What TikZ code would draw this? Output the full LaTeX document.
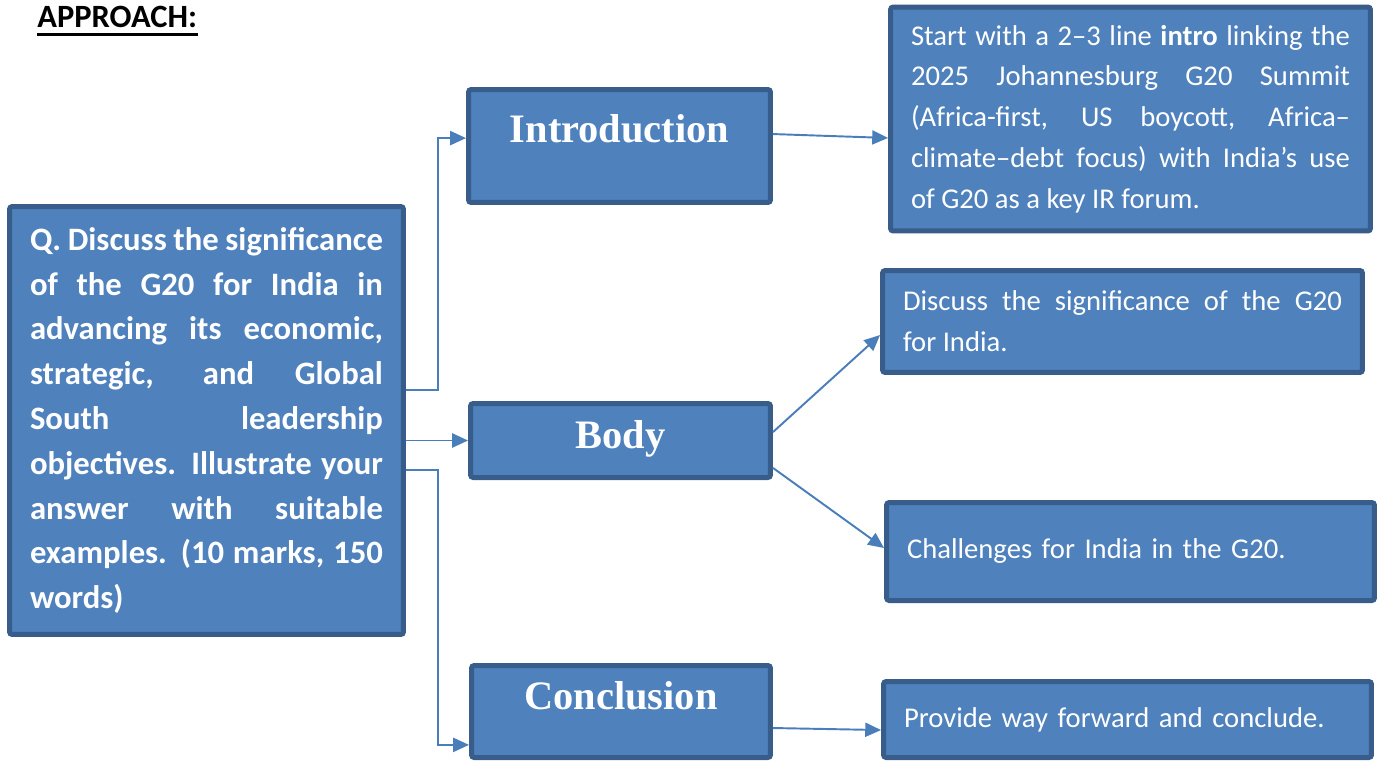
\documentclass[tikz,border=0pt]{standalone}
\usepackage{fontspec}
\setmainfont{Carlito}
\newfontfamily\headfont{Liberation Serif}
\usetikzlibrary{arrows.meta}
\definecolor{boxfill}{HTML}{4F81BD}
\definecolor{boxline}{HTML}{385D8A}
\definecolor{linkblue}{HTML}{4A7EBB}
\hyphenpenalty=10000
\exhyphenpenalty=10000
\tolerance=10000
\begin{document}
\begin{tikzpicture}[x=0.02cm,y=-0.02cm]
        \tikzstyle{box} = [fill=boxfill, draw=boxline, line width=0.1cm, rounded corners=1.5pt, inner xsep=0.41cm, inner ysep=0pt, text=white]
        \tikzstyle{head} = [box, font=\headfont\bfseries\fontsize{23}{26}\selectfont, text height=16pt, text depth=5pt]
        \tikzstyle{txt} = [box, text width=8.78cm, font=\fontsize{16.3}{23.2}\selectfont]
        \tikzstyle{link} = [draw=linkblue, line width=1.1pt, -{Triangle[length=9pt,width=8pt]}]

        \useasboundingbox (0,0) rectangle (1378,764);

        \node[anchor=north west, inner sep=0pt, font=\bfseries\fontsize{18.5}{20}\selectfont] (title) at (37,6){APPROACH:};
        \draw[line width=1.7pt] ([yshift=-3.8pt]title.base west) -- ([yshift=-3.8pt]title.base east);

        \node[box, minimum width=7.88cm, minimum height=8.56cm, text width=7.06cm, align=justify, font=\bfseries\fontsize{18.6}{25.5}\selectfont] (Q) at (206.5,420.5){Q. Discuss the significance\linebreak of the G20 for India in\linebreak advancing its economic,\linebreak strategic, and Global\linebreak South leadership\linebreak objectives. Illustrate your\linebreak answer with suitable\linebreak examples. (10 marks, 150\linebreak words)};

        \node[head, minimum width=6.04cm, minimum height=2.26cm, text depth=19.8pt] (intro) at (619.5,146){Introduction};
        \node[head, minimum width=6.0cm, minimum height=1.48cm, text depth=7pt] (body) at (620.5,440.5){Body};
        \node[head, minimum width=5.98cm, minimum height=1.84cm, text depth=18.6pt] (concl) at (621,711.5){Conclusion};

        \node[txt, minimum width=9.6cm, minimum height=4.48cm, align=justify] (itext) at (1130.5,119){Start with a 2--3 line \textbf{intro} linking the\linebreak 2025 Johannesburg G20 Summit\linebreak (Africa-first, US boycott, Africa--\linebreak climate--debt focus) with India’s use\linebreak of G20 as a key IR forum.};
        \node[txt, minimum width=9.6cm, minimum height=2.04cm, align=justify] (sig) at (1122.5,321.5){Discuss the significance of the G20\linebreak for India.};
        \node[txt, minimum width=9.76cm, minimum height=1.96cm, text width=8.94cm, align=left] (chal) at (1130.5,551.5){Challenges for India in the G20.};
        \node[txt, minimum width=9.76cm, minimum height=1.52cm, text width=8.94cm, align=left] (ctext) at (1127.5,719.5){Provide way forward and conclude.};

        \coordinate (q1) at (406,390);
        \coordinate (q2) at (406,440.5);
        \coordinate (q3) at (406,470);

        %\draw[->] (Q.east) -- (body.west);
        \draw[link] (q1) -- (438,390) |- ([yshift=4.5pt]intro.west);
        \draw[link] (q2) -- (body.west);
        \draw[link] (q3) -- (438,470) |- ([yshift=-19pt]concl.west);

        \draw[link] ([yshift=6.8pt]intro.east) -- ([yshift=-10.8pt]itext.west);
        \draw[link] ([yshift=4.8pt]body.east) -- ([yshift=-7.7pt]sig.west);
        \draw[link] ([yshift=-15.6pt]body.east) -- ([yshift=2pt]chal.west);
        \draw[link] ([yshift=-9.4pt]concl.east) -- ([yshift=-6pt]ctext.west);

    \end{tikzpicture}
\end{document}
